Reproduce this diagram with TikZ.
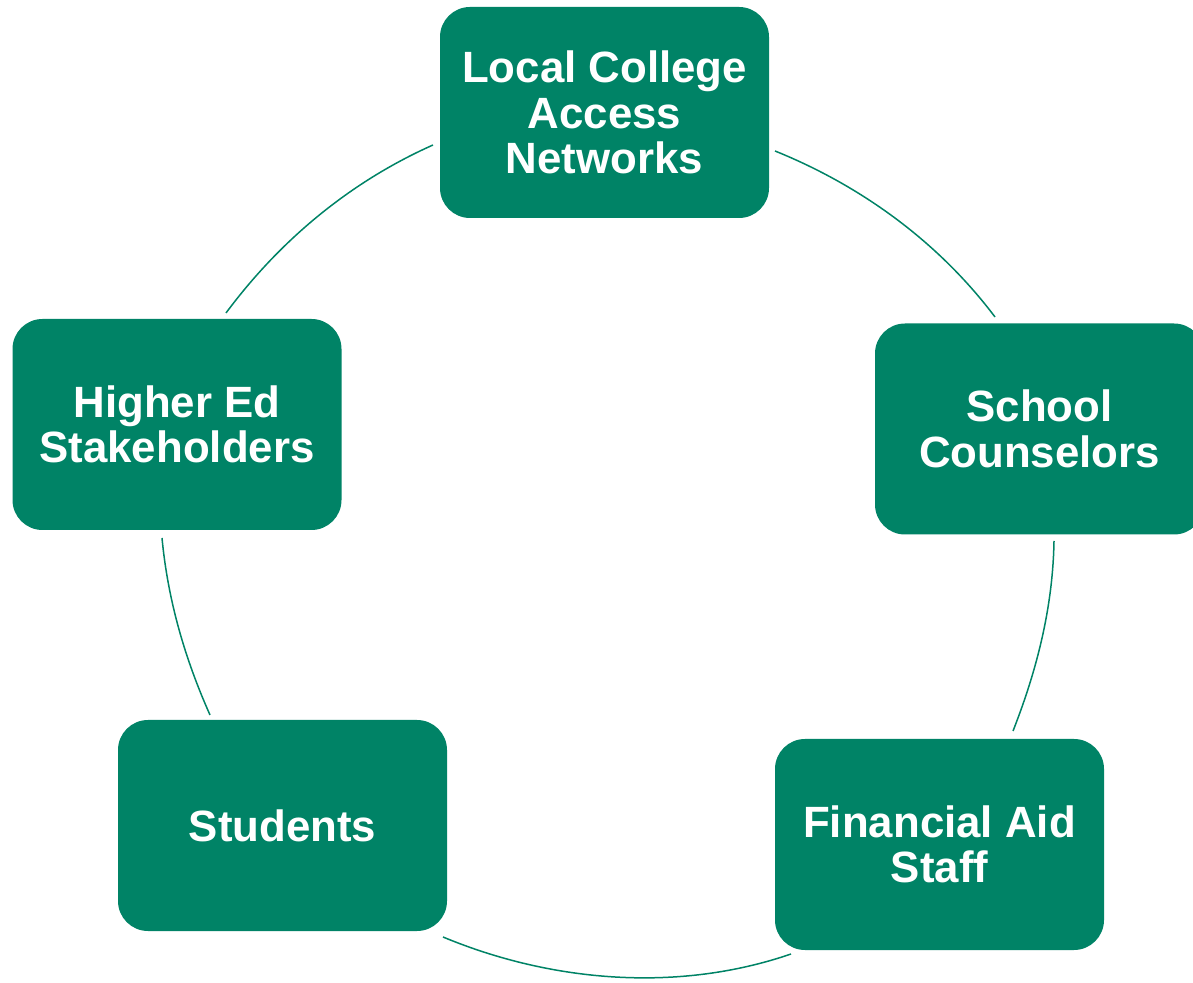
\documentclass[tikz,border=0pt]{standalone}
\usepackage{fontspec}
\setmainfont{Liberation Sans}
\definecolor{cgreen}{RGB}{0,131,102}
\begin{document}
\begin{tikzpicture}[x=1pt,y=1pt,
  box/.style={fill=cgreen, draw=none, rounded corners=30pt, minimum width=329pt, minimum height=211pt,
    inner sep=0pt, text=white, align=center, font=\bfseries\fontsize{43.8}{45.5}\selectfont},
  link/.style={draw=cgreen, line width=1.5pt, looseness=0.87}]
\useasboundingbox (0,0) rectangle (1193,982);
\node[box] (lcan) at (604.5,869.5) {Local College\\Access\\Networks};
\node[box] (sc) at (1039.5,553) {School\\Counselors};
\node[box] (fas) at (939.5,137.5) {Financial Aid\\Staff};
\node[box] (st) at (282.5,156.5) {Students};
\node[box] (hes) at (177,557.5) {Higher Ed\\Stakeholders};
\coordinate (a1) at (433,837); \coordinate (a2) at (226,669);
\coordinate (b1) at (775,831); \coordinate (b2) at (995,665);
\coordinate (c1) at (162,444); \coordinate (c2) at (210,267);
\coordinate (d1) at (1054,441); \coordinate (d2) at (1013,251);
\coordinate (e1) at (443,45); \coordinate (e2) at (791,28);
\draw[link] (a1) to[out=204,in=53.4] (a2);
\draw[link] (b1) to[out=-22,in=127] (b2);
\draw[link] (c1) to[out=-84.6,in=114] (c2);
\draw[link] (d1) to[out=-91,in=68.6] (d2);
\draw[link] (e1) to[out=-22.6,in=199] (e2);
\end{tikzpicture}
\end{document}
